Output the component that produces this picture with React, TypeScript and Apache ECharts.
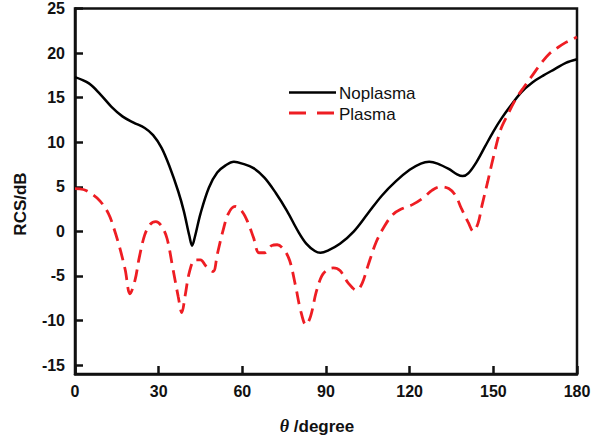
import React, { useEffect, useRef } from "react";
import * as echarts from "echarts";

const thetaNo = [0, 5, 9, 13, 17, 21, 25, 28, 31, 34, 37, 39, 41, 42, 43, 45, 48, 51, 54, 57, 60, 64, 68, 72, 76, 80, 83, 86, 88, 91, 95, 100, 105, 110, 115, 120, 124, 127, 130, 134, 137, 139, 141, 144, 147, 150, 153, 156, 160, 164, 168, 172, 176, 180];
const rcsNo = [17.3, 16.6, 15.4, 14.0, 12.9, 12.2, 11.6, 10.8, 9.4, 7.2, 4.5, 2.3, -0.5, -1.6, -0.6, 2.0, 4.9, 6.6, 7.4, 7.8, 7.6, 7.1, 6.0, 4.3, 2.3, 0.0, -1.4, -2.2, -2.4, -2.1, -1.4, 0.0, 2.0, 4.0, 5.6, 6.9, 7.6, 7.8, 7.6, 7.0, 6.4, 6.2, 6.5, 7.8, 9.5, 11.2, 12.7, 14.0, 15.6, 16.7, 17.5, 18.2, 18.9, 19.3];

const thetaPl = [0, 3, 6, 9, 12, 14, 16, 18, 19.7, 21.5, 23, 25, 27, 29, 31, 33, 35, 37, 38.3, 39.5, 41, 43, 45, 47, 49.5, 51, 53, 55, 57.4, 60, 62, 64, 66, 68, 70.5, 72.5, 75, 77, 79, 81, 82.8, 84.5, 86.5, 88.5, 90.5, 92.6, 95, 98, 101, 103, 105, 108, 111, 114, 117, 121, 125, 128, 131, 134, 136.5, 138.5, 141, 142.8, 144.5, 146, 148, 150, 152.5, 155, 158, 161, 164, 167, 170, 173, 176, 178, 180];
const rcsPl = [4.8, 4.7, 4.2, 3.4, 2.0, 0.3, -1.8, -4.3, -7.0, -5.5, -3.0, -0.4, 0.8, 1.1, 0.6, -0.8, -4.0, -7.3, -9.1, -7.2, -4.6, -3.2, -3.2, -3.9, -4.5, -2.6, 0.0, 2.0, 2.8, 2.2, 1.0, -0.7, -2.4, -2.4, -1.6, -1.5, -2.1, -3.3, -6.0, -9.0, -10.5, -9.5, -6.8, -5.0, -4.3, -4.1, -4.4, -5.8, -6.6, -5.8, -3.9, -1.2, 0.6, 1.9, 2.5, 3.0, 3.8, 4.6, 5.0, 4.8, 4.0, 2.6, 1.0, 0.0, 0.9, 3.0, 5.6, 8.3, 11.3, 13.0, 14.8, 16.2, 17.5, 18.8, 19.9, 20.6, 21.2, 21.5, 21.8];

const yTicks = [-15, -10, -5, 0, 5, 10, 15, 20, 25];
const seriesNames = ["Noplasma", "Plasma"];

const FONT = "'Liberation Sans', Arial, sans-serif";
const RED = "#ee1d23";

export default function App() {
  const ref = useRef<HTMLDivElement>(null);
  useEffect(() => {
    if (!ref.current) return;
    const chart = echarts.init(ref.current, undefined, { renderer: "svg" });
    const axisColor = "#111";
    chart.setOption({
      animation: false,
      backgroundColor: "#fff",
      grid: {
        left: 75,
        right: 23,
        top: 8.5,
        bottom: 62.5,
        show: true,
        borderColor: axisColor,
        borderWidth: 2.5,
        backgroundColor: "transparent",
      },
      xAxis: {
        type: "value",
        min: 0,
        max: 180,
        interval: 30,
        splitLine: { show: false },
        axisLine: { onZero: false, lineStyle: { color: axisColor, width: 2.5 } },
        axisTick: { inside: true, length: 8, lineStyle: { color: axisColor, width: 2.5 } },
        axisLabel: { fontFamily: FONT, fontSize: 16, fontWeight: "bold", color: axisColor, margin: 9 },
        name: "{i|θ} /degree",
        nameLocation: "middle",
        nameGap: 43,
        nameTextStyle: {
          fontFamily: FONT,
          fontSize: 17,
          fontWeight: "bold",
          color: axisColor,
          padding: [0, 18, 0, 0],
          rich: {
            i: { fontFamily: "'Liberation Serif', 'Times New Roman', serif", fontStyle: "italic", fontSize: 18, fontWeight: "bold", color: axisColor },
          },
        },
      },
      yAxis: {
        type: "value",
        min: -16,
        max: 25,
        splitLine: { show: false },
        axisLine: { onZero: false, lineStyle: { color: axisColor, width: 2.5 } },
        axisTick: { inside: true, length: 8, customValues: yTicks, lineStyle: { color: axisColor, width: 2.5 } },
        axisLabel: { customValues: yTicks, fontFamily: FONT, fontSize: 16, fontWeight: "bold", color: axisColor, margin: 10 },
      },
      graphic: [
        {
          type: "text",
          x: 20,
          y: 204,
          rotation: Math.PI / 2,
          style: {
            text: "RCS/dB",
            fontFamily: FONT,
            fontSize: 17,
            fontWeight: "bold",
            fill: axisColor,
            align: "center",
            verticalAlign: "middle",
          },
        },
        {
          type: "line",
          shape: { x1: 289, y1: 92.5, x2: 336, y2: 92.5 },
          style: { stroke: "#000", lineWidth: 2.5 },
        },
        {
          type: "text",
          x: 339,
          y: 93,
          style: { text: seriesNames[0], fontFamily: FONT, fontSize: 17, fill: "#111", align: "left", verticalAlign: "middle" },
        },
        {
          type: "line",
          shape: { x1: 289, y1: 113, x2: 336, y2: 113 },
          style: { stroke: RED, lineWidth: 2.8, lineDash: [17, 11] },
        },
        {
          type: "text",
          x: 339,
          y: 114,
          style: { text: seriesNames[1], fontFamily: FONT, fontSize: 17, fill: "#111", align: "left", verticalAlign: "middle" },
        },
      ],
      series: [
        {
          name: seriesNames[0],
          type: "line",
          data: thetaNo.map((t, i) => [t, rcsNo[i]]),
          smooth: 0.35,
          symbol: "none",
          lineStyle: { color: "#000", width: 2.5 },
        },
        {
          name: seriesNames[1],
          type: "line",
          data: thetaPl.map((t, i) => [t, rcsPl[i]]),
          smooth: 0.35,
          symbol: "none",
          lineStyle: { color: RED, width: 2.8, type: [13, 7] },
        },
      ],
    });
    return () => chart.dispose();
  }, []);
  return <div ref={ref} style={{ position: "absolute", left: 0, top: 0, width: 600, height: 440 }} />;
}
